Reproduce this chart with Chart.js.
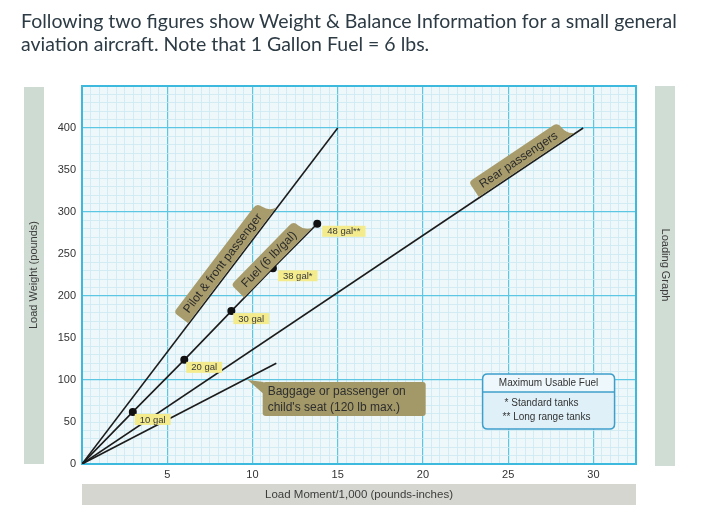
<!DOCTYPE html>
<html>
<head>
<meta charset="utf-8">
<script src="https://cdn.jsdelivr.net/npm/chart.js@4.4.1/dist/chart.umd.min.js"></script>
<style>
body{margin:0;background:#fff;}
#wrap{position:relative;width:714px;height:524px;}
#myChart{position:absolute;left:0;top:0;}
#intro{position:absolute;left:21px;top:9px;font-family:Lato,sans-serif;font-size:19.5px;line-height:23px;color:#2d3b45;}
</style>
</head>
<body>
<div id="wrap">
<canvas id="myChart" width="714" height="524"></canvas>
<div id="intro">Following two figures show Weight &amp; Balance Information for a small general<br>aviation aircraft. Note that 1 Gallon Fuel = 6 lbs.</div>
</div>
<script>
/*====== data (moment /1000 lb-in, weight lb) =======*/
const pilotMoment = [0, 15.0];
const pilotWeight = [0, 400];

const fuelMoment = [0, 2.98, 6.0, 8.76, 11.2, 13.8];
const fuelWeight = [0, 62, 124, 182, 233, 286];
const fuelLabels = ['', '10 gal', '20 gal', '30 gal', '38 gal*', '48 gal**'];

const rearMoment = [0, 29.4];
const rearWeight = [0, 400];

const baggageMoment = [0, 11.4];
const baggageWeight = [0, 120];

const xTicks = [5, 10, 15, 20, 25, 30];
const yTicks = [0, 50, 100, 150, 200, 250, 300, 350, 400];

function pts(xs, ys) {
  return xs.map((x, i) => ({x: x, y: ys[i]}));
}

const FONT = '"Liberation Sans", Arial, sans-serif';

/*====== drawing helpers =======*/
function rrect(ctx, x, y, w, h, r) {
  ctx.beginPath();
  ctx.moveTo(x + r, y);
  ctx.lineTo(x + w - r, y);
  ctx.quadraticCurveTo(x + w, y, x + w, y + r);
  ctx.lineTo(x + w, y + h - r);
  ctx.quadraticCurveTo(x + w, y + h, x + w - r, y + h);
  ctx.lineTo(x + r, y + h);
  ctx.quadraticCurveTo(x, y + h, x, y + h - r);
  ctx.lineTo(x, y + r);
  ctx.quadraticCurveTo(x, y, x + r, y);
  ctx.closePath();
}

// label tab sitting on top of a line, t = fraction along the line
function tab(chart, ds, t, text) {
  const ctx = chart.ctx, sx = chart.scales.x, sy = chart.scales.y;
  const d = chart.data.datasets[ds].data;
  const a = d[0], b = d[d.length - 1];
  const x0 = sx.getPixelForValue(a.x), y0 = sy.getPixelForValue(a.y);
  const x1 = sx.getPixelForValue(b.x), y1 = sy.getPixelForValue(b.y);
  const ang = Math.atan2(y1 - y0, x1 - x0);
  ctx.save();
  ctx.translate(x0 + (x1 - x0) * t, y0 + (y1 - y0) * t);
  ctx.rotate(ang);
  ctx.font = '12px ' + FONT;
  const w = ctx.measureText(text).width + 20, h = 18;
  const l = -w / 2, top = -h - 0.8, bot = -0.8;
  // folder-like tab: square lower end, rounded top, curled upper end
  ctx.beginPath();
  ctx.moveTo(l, bot);
  ctx.lineTo(l, top + 4);
  ctx.quadraticCurveTo(l, top, l + 4, top);
  ctx.lineTo(l + w - 10, top);
  ctx.quadraticCurveTo(l + w - 4, top, l + w - 4, top + 6);
  ctx.quadraticCurveTo(l + w - 3, bot - 3, l + w + 4, bot);
  ctx.closePath();
  ctx.fillStyle = '#a89c6c';
  ctx.fill();
  ctx.fillStyle = '#2b2b2b';
  ctx.textAlign = 'center';
  ctx.textBaseline = 'middle';
  ctx.fillText(text, -2, (top + bot) / 2 + 0.5);
  ctx.restore();
}

const decor = {
  id: 'decor',
  beforeDraw(chart) {
    const ctx = chart.ctx, a = chart.chartArea;
    ctx.save();
    ctx.fillStyle = '#eef8fb';
    ctx.fillRect(a.left, a.top, a.right - a.left, a.bottom - a.top);
    // side bands
    ctx.fillStyle = '#cddbd2';
    ctx.fillRect(a.left - 58, a.top + 1, 20, a.bottom - a.top - 1);
    ctx.fillStyle = '#cfddd5';
    ctx.fillRect(a.right + 19, a.top, 20, a.bottom - a.top + 2);
    ctx.fillStyle = '#d6d6d1';
    ctx.fillRect(a.left, a.bottom + 20, a.right - a.left, 21);
    ctx.fillStyle = '#3c3c3c';
    ctx.font = '11px ' + FONT;
    ctx.textAlign = 'center';
    ctx.textBaseline = 'middle';
    ctx.save();
    ctx.translate(a.left - 48, 275);
    ctx.rotate(-Math.PI / 2);
    ctx.fillText('Load Weight (pounds)', 0, 0);
    ctx.restore();
    ctx.save();
    ctx.translate(a.right + 29, 265);
    ctx.rotate(Math.PI / 2);
    ctx.fillText('Loading Graph', 0, 0);
    ctx.restore();
    ctx.font = '11.5px ' + FONT;
    ctx.fillText('Load Moment/1,000 (pounds-inches)', (a.left + a.right) / 2, a.bottom + 31);
    ctx.restore();
  },
  beforeDatasetsDraw(chart) {
    const ctx = chart.ctx, a = chart.chartArea;
    ctx.save();
    ctx.strokeStyle = '#3cb9dd';
    ctx.lineWidth = 2;
    ctx.strokeRect(a.left, a.top, a.right - a.left, a.bottom - a.top);
    ctx.restore();
  },
  afterDatasetsDraw(chart) {
    const ctx = chart.ctx, sx = chart.scales.x, sy = chart.scales.y;
    tab(chart, 0, 0.585, 'Pilot & front passenger');
    tab(chart, 1, 0.83, 'Fuel (6 lb/gal)');
    tab(chart, 2, 0.885, 'Rear passengers');

    // gallon tags
    ctx.save();
    ctx.font = '9.5px ' + FONT;
    ctx.textBaseline = 'middle';
    fuelLabels.forEach((lab, i) => {
      if (!lab) return;
      const px = sx.getPixelForValue(fuelMoment[i]), py = sy.getPixelForValue(fuelWeight[i]);
      const w = ctx.measureText(lab).width + 10;
      const dx = i >= 4 ? 5 : 2;
      ctx.fillStyle = '#f3eb8c';
      ctx.fillRect(px + dx, py + 2, w, 11);
      ctx.fillStyle = '#3a3a3a';
      ctx.fillText(lab, px + dx + 5, py + 8);
    });
    ctx.restore();

    // baggage callout
    const bx = sx.getPixelForValue(10.6), by = sy.getPixelForValue(97.6);
    ctx.save();
    ctx.fillStyle = '#a39868';
    ctx.beginPath();
    ctx.moveTo(bx + 1, by);
    ctx.lineTo(bx - 15, by - 2);
    ctx.lineTo(bx + 1, by + 12);
    ctx.closePath();
    ctx.fill();
    rrect(ctx, bx, by, 163, 34, 3);
    ctx.fill();
    ctx.fillStyle = '#2e2e2e';
    ctx.font = '12px ' + FONT;
    ctx.textBaseline = 'middle';
    ctx.fillText('Baggage or passenger on', bx + 5, by + 10);
    ctx.fillText("child's seat (120 lb max.)", bx + 5, by + 26);
    ctx.restore();

    // fuel note box
    const lx = sx.getPixelForValue(23.5), ly = sy.getPixelForValue(107);
    const lw = 132, lh = 55;
    ctx.save();
    ctx.fillStyle = '#dff0f8';
    rrect(ctx, lx, ly, lw, lh, 5);
    ctx.fill();
    ctx.fillStyle = '#eef7fb';
    ctx.fillRect(lx + 1, ly + 1, lw - 2, 17);
    ctx.strokeStyle = '#3f9fcb';
    ctx.lineWidth = 1.5;
    rrect(ctx, lx, ly, lw, lh, 5);
    ctx.stroke();
    ctx.beginPath();
    ctx.moveTo(lx, ly + 18);
    ctx.lineTo(lx + lw, ly + 18);
    ctx.stroke();
    ctx.fillStyle = '#333';
    ctx.font = '10px ' + FONT;
    ctx.textAlign = 'center';
    ctx.textBaseline = 'middle';
    ctx.fillText('Maximum Usable Fuel', lx + lw / 2, ly + 9.5);
    ctx.textAlign = 'left';
    ctx.fillText('* Standard tanks', lx + 22, ly + 29);
    ctx.fillText('** Long range tanks', lx + 20, ly + 43);
    ctx.restore();
  }
};

const lineStyle = {
  showLine: true,
  borderColor: '#1c1c1c',
  borderWidth: 1.6,
  pointRadius: 0,
  fill: false
};

const data = {
  datasets: [
    Object.assign({label: 'Pilot & front passenger', data: pts(pilotMoment, pilotWeight)}, lineStyle),
    Object.assign({}, lineStyle, {
      label: 'Fuel (6 lb/gal)',
      data: pts(fuelMoment, fuelWeight),
      pointRadius: ctx => ctx.dataIndex === 0 ? 0 : 3.2,
      pointBackgroundColor: '#111',
      pointBorderColor: '#111'
    }),
    Object.assign({label: 'Rear passengers', data: pts(rearMoment, rearWeight)}, lineStyle),
    Object.assign({label: 'Baggage', data: pts(baggageMoment, baggageWeight)}, lineStyle)
  ]
};

const minor = '#cbe9f1', major = '#5cc6e3';

const config = {
  type: 'scatter',
  data: data,
  plugins: [decor],
  options: {
    responsive: false,
    animation: false,
    layout: {padding: {left: 52, top: 86, right: 78, bottom: 38}},
    plugins: {legend: {display: false}, tooltip: {enabled: false}},
    scales: {
      x: {
        type: 'linear', min: 0, max: 32.5,
        afterFit: s => { s.height = 22; },
        border: {display: false},
        grid: {
          drawTicks: false,
          color: c => (c.tick && c.tick.value % 5 === 0) ? major : minor,
          lineWidth: c => (c.tick && c.tick.value % 5 === 0) ? 1.2 : 0.8
        },
        ticks: {
          stepSize: 0.5, autoSkip: false, maxRotation: 0, padding: 4,
          color: '#333', font: {family: FONT, size: 11},
          callback: v => xTicks.includes(v) ? v : ''
        }
      },
      y: {
        min: 0, max: 450,
        afterFit: s => { s.width = 30; },
        border: {display: false},
        grid: {
          drawTicks: false,
          color: c => (c.tick && c.tick.value % 100 === 0) ? major : minor,
          lineWidth: c => (c.tick && c.tick.value % 100 === 0) ? 1.2 : 0.8
        },
        ticks: {
          stepSize: 10, autoSkip: false, padding: 6,
          color: '#333', font: {family: FONT, size: 11},
          callback: v => yTicks.includes(v) ? v : ''
        }
      }
    }
  }
};

const myChart = new Chart(document.getElementById('myChart'), config);
</script>
</body>
</html>
